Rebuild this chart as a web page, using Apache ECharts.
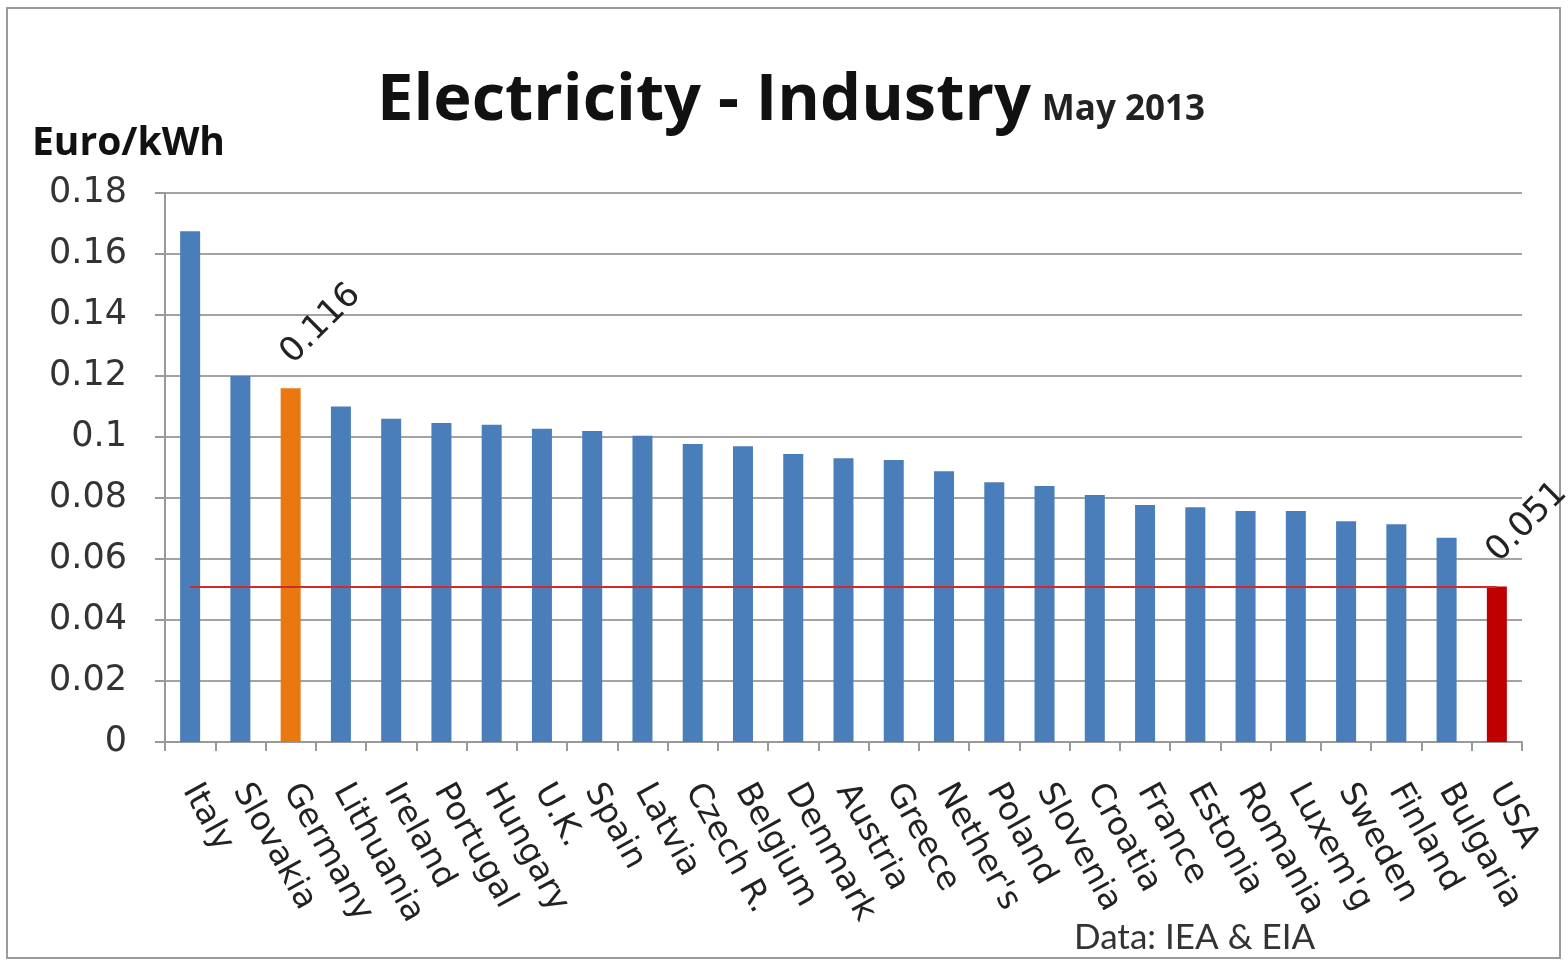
<!DOCTYPE html>
<html><head><meta charset="utf-8">
<script src="https://cdn.jsdelivr.net/npm/echarts@6/dist/echarts.min.js"></script>
<style>html,body{margin:0;padding:0;background:#fff}#c{width:1568px;height:962px}</style>
</head><body><div id="c"></div>
<script>
const countries = ["Italy","Slovakia","Germany","Lithuania","Ireland","Portugal","Hungary","U.K.","Spain","Latvia","Czech R.","Belgium","Denmark","Austria","Greece","Nether's","Poland","Slovenia","Croatia","France","Estonia","Romania","Luxem'g","Sweden","Finland","Bulgaria","USA"];
const prices = [0.1675,0.120,0.116,0.110,0.106,0.1046,0.104,0.1027,0.102,0.1004,0.0977,0.097,0.0944,0.093,0.0925,0.0888,0.0852,0.0839,0.081,0.0777,0.077,0.0757,0.0757,0.0724,0.0714,0.067,0.051];
const labelled = {"Germany":"0.116","USA":"0.051"};
const barColors = {"Germany":"#E8780F","USA":"#C00000"};
const usaLevel = 0.051;
const yTicks = {min:0, max:0.18, step:0.02};

const F = "'DejaVu Sans', sans-serif";
const chart = echarts.init(document.getElementById('c'));
chart.setOption({
  animation:false,
  backgroundColor:'#fff',
  title:{
    text:'{a|Electricity - Industry} {b|May 2013}',
    left:372, top:64,
    textStyle:{rich:{
      a:{fontFamily:"'Open Sans', sans-serif",fontWeight:'bold',fontSize:65,color:'#111',verticalAlign:'bottom'},
      b:{fontFamily:"'Open Sans', sans-serif",fontWeight:'bold',fontSize:35,color:'#222',verticalAlign:'bottom',padding:[0,0,6,6]}
    }}
  },
  graphic:[
    {type:'rect',shape:{x:7,y:8,width:1553,height:950},style:{fill:'none',stroke:'#9a9a9a',lineWidth:2},silent:true},
    {type:'text',left:32,top:124,style:{text:'Euro/kWh',font:"bold 39px 'Open Sans', sans-serif",fill:'#111'}},
    {type:'text',left:1074,top:920,style:{text:'Data: IEA & EIA',font:"35px Lato, sans-serif",fill:'#333'}}
  ],
  grid:{left:165,right:46,top:193,bottom:220,containLabel:false},
  xAxis:{
    type:'category',data:countries,boundaryGap:true,
    axisLine:{lineStyle:{color:'#999',width:2}},
    axisTick:{show:true,length:9,lineStyle:{color:'#999',width:2}},
    axisLabel:{rotate:-61,interval:0,margin:44,fontFamily:F,fontSize:33,color:'#222'}
  },
  yAxis:{
    type:'value',min:yTicks.min,max:yTicks.max,interval:yTicks.step,
    axisLine:{show:true,lineStyle:{color:'#999',width:2}},
    axisTick:{show:true,length:10,lineStyle:{color:'#999',width:2}},
    splitLine:{lineStyle:{color:'#a3a3a3',width:2}},
    axisLabel:{margin:38,fontFamily:F,fontSize:35,color:'#333',formatter:v=>String(parseFloat(v.toFixed(2)))}
  },
  series:[{
    type:'bar',barWidth:20,
    data:countries.map((c,i)=>({
      value:prices[i],
      itemStyle:{color:barColors[c]||'#4A7EBB'},
      label: labelled[c] ? {show:true,position:'top',distance:34,rotate:45,align:'left',verticalAlign:'middle',
        formatter:labelled[c],fontFamily:F,fontSize:34,color:'#222',offset:[-6,0]} : {show:false}
    })),
    markLine:{
      silent:true,symbol:'none',label:{show:false},
      lineStyle:{color:'#D02A2A',width:2,type:'solid'},
      data:[[{coord:[0,usaLevel]},{coord:[countries.length-1,usaLevel]}]]
    }
  }]
});
</script></body></html>
